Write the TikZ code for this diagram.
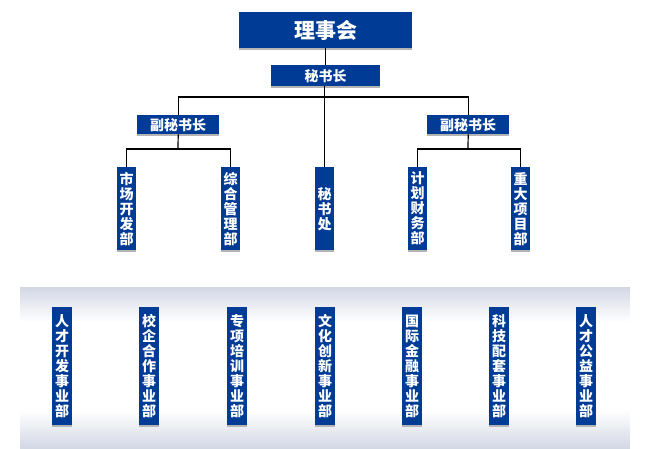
\documentclass[tikz,border=0pt]{standalone}
\usepackage{fontspec}
\newfontfamily\cjk{Noto Sans CJK SC}
\usetikzlibrary{shadows}
\definecolor{boxblue}{HTML}{003C96}
\definecolor{bandc}{HTML}{D3D8E5}
\definecolor{shad}{HTML}{B4B4B4}
\tikzset{
  bluebox/.style={fill=boxblue, text=white, inner sep=0pt, anchor=north west,
    font=\cjk\bfseries, align=center,
    drop shadow={shadow xshift=0pt, shadow yshift=-2pt, fill=shad, opacity=1}},
  vbox/.style={bluebox, minimum width=19pt, minimum height=83pt, font=\cjk\bfseries\fontsize{14}{15}\selectfont},
  dbox/.style={bluebox, minimum width=20pt, minimum height=118pt, font=\cjk\bfseries\fontsize{14}{15}\selectfont},
  conn/.style={draw=black, line width=1.2pt}
}
\begin{document}
\begin{tikzpicture}[x=1pt,y=-1pt]
\useasboundingbox (0,0) rectangle (650,449);
% band
\shade[top color=bandc, bottom color=white] (20,287) rectangle (630,322);
\fill[white] (20,321.5) rectangle (630,410.5);
\shade[top color=white, bottom color=bandc] (20,410) rectangle (630,448);
% top
\node[bluebox, minimum width=173pt, minimum height=36pt, font=\cjk\bfseries\fontsize{21}{22}\selectfont] (lsh) at (239,12) {理事会};
\node[bluebox, minimum width=109pt, minimum height=21pt, font=\cjk\bfseries\fontsize{14}{15}\selectfont] (msz) at (271,65) {秘书长};
\node[bluebox, minimum width=82pt, minimum height=19pt, font=\cjk\bfseries\fontsize{14}{15}\selectfont] (vl) at (137,115) {副秘书长};
\node[bluebox, minimum width=82pt, minimum height=19pt, font=\cjk\bfseries\fontsize{14}{15}\selectfont] (vr) at (427,115) {副秘书长};
\node[vbox] (d1) at (117,167) {市\\场\\开\\发\\部};
\node[vbox] (d2) at (221,167) {综\\合\\管\\理\\部};
\node[vbox] (sc) at (315,167) {秘\\书\\处};
\node[vbox] (d4) at (408,167) {计\\划\\财\\务\\部};
\node[vbox] (d5) at (511,167) {重\\大\\项\\目\\部};
% connectors
\coordinate (hj) at (325,97);
\coordinate (jl) at (178,149);
\coordinate (jr) at (468,149);
\draw[conn] (lsh.south) -- (msz.north);
\draw[conn] (msz.south -| sc.north) -- (sc.north);
\draw[conn] (vl.north) |- (hj) -| (vr.north);
\draw[conn] (vl.south) -- (jl);
\draw[conn] (vr.south) -- (jr);
\draw[conn] (d1.north) |- (jl) -| (d2.north);
\draw[conn] (d4.north) |- (jr) -| (d5.north);
% business departments
\node[dbox] (b1) at (52,307) {人\\才\\开\\发\\事\\业\\部};
\node[dbox] (b2) at (139,307) {校\\企\\合\\作\\事\\业\\部};
\node[dbox] (b3) at (227,307) {专\\项\\培\\训\\事\\业\\部};
\node[dbox] (b4) at (315,307) {文\\化\\创\\新\\事\\业\\部};
\node[dbox] (b5) at (402,307) {国\\际\\金\\融\\事\\业\\部};
\node[dbox] (b6) at (489,307) {科\\技\\配\\套\\事\\业\\部};
\node[dbox] (b7) at (576,307) {人\\才\\公\\益\\事\\业\\部};
\end{tikzpicture}
\end{document}
